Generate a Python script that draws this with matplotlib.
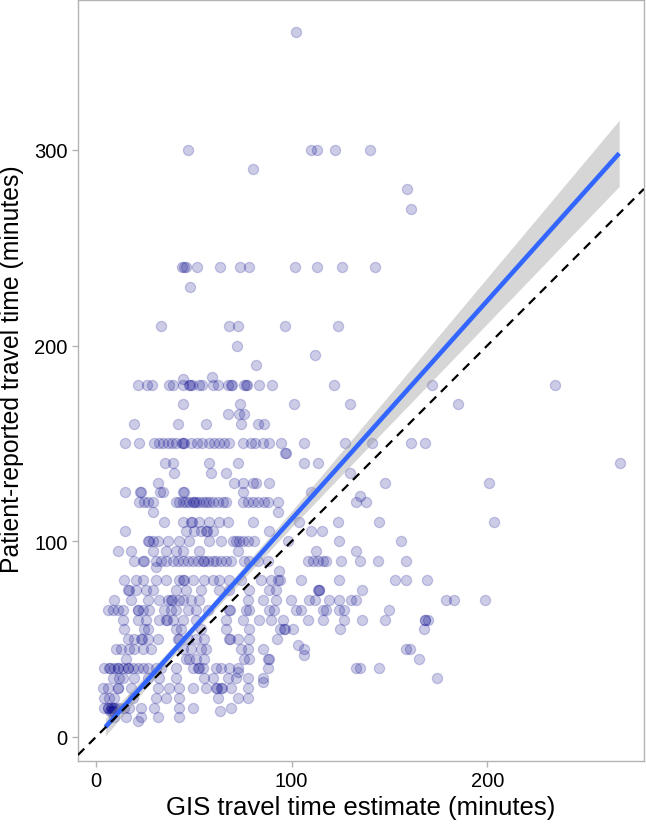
import matplotlib.pyplot as plt

plt.rcParams['font.family'] = ['Liberation Sans', 'DejaVu Sans']

# patient-reported minutes (rows of the scatter) and the GIS estimates sitting on each row
reported_levels = [360, 300, 290, 280, 270, 240, 230, 210, 200, 195, 190, 184, 183, 180,
                   170, 165, 160, 150, 145, 140, 135, 130, 125, 123, 120, 115, 110, 105,
                   100, 95, 90, 87, 85, 80, 75, 70, 65, 60, 55, 50, 47, 45, 42, 40, 35,
                   33, 30, 28, 25, 20, 15, 13, 10, 8]
gis_by_level = [
    [102],
    [47, 110, 113, 122, 140],
    [80],
    [159],
    [161],
    [44, 45, 46, 51.5, 63.6, 73.5, 78.3, 101.8, 113.2, 125.5, 142.7],
    [48],
    [33.4, 67.9, 72.8, 96.7, 123.8],
    [72],
    [112],
    [82],
    [59.3],
    [44.3],
    [21.3, 25.9, 28.6, 37.5, 39.2, 44.3, 47.5, 48.2, 49, 52.8, 54.2, 59.7, 62.2, 67.7,
     69.1, 69.5, 75.9, 76.7, 77.2, 83.2, 90, 121.4, 171.7, 234.8],
    [44.3, 73.8, 101.3, 129.6, 184.8],
    [67.7, 73, 75.9],
    [19.6, 41.8, 56.3, 74.2, 82.7, 86.1],
    [15, 22.1, 29.8, 32.4, 34.4, 36.7, 38.9, 40.9, 44.2, 44.7, 45.2, 48.6, 51.5, 54.2,
     57.6, 60.5, 63, 65.6, 68.2, 75, 79.3, 81.5, 85.3, 88.3, 94.6, 106.5, 127.5, 141.2,
     161, 168.4],
    [96.7, 97],
    [35.5, 39.2, 58, 72.5, 106.5, 113.4, 267.7],
    [40, 58.8, 66.5, 129.6],
    [31.5, 70.7, 75, 80.2, 81.8, 88.6, 147.5, 200.7],
    [14.8, 22.7, 23.2, 32.7, 34.4, 44.3, 44.8, 75, 110],
    [134.7],
    [22.1, 24.7, 26.4, 29, 40.9, 42.6, 44.3, 46, 47.7, 49.5, 50, 51.2, 52.8, 54.6, 56.3,
     58, 59.7, 62.2, 64.8, 66.5, 75, 77.6, 80.2, 82.7, 86.1, 87.8, 92.9, 133, 138.1],
    [29, 93],
    [35, 44.3, 48.6, 49, 52.8, 58, 63, 67.4, 80.2, 104, 123.6, 144.6, 203.4],
    [14.8, 46, 50.3, 53.7, 56.3, 56.8, 59.7, 88.6, 110, 115.6],
    [26.4, 27, 29, 31.5, 36.7, 42.6, 47.7, 58, 64, 70, 71.6, 73.3, 75, 77.6, 81, 98,
     124.4, 156],
    [11.1, 17.9, 29, 35.8, 40.9, 44.3, 52.8, 72.5, 112.5, 133],
    [19.6, 23.9, 24.3, 30.7, 33.2, 35.8, 39.2, 41.8, 44.3, 46.9, 49.5, 52, 54.6, 55,
     57.1, 59.7, 61.4, 64, 66.5, 69.1, 75.9, 78.4, 82.7, 87.8, 108.3, 110.8, 113.4, 116,
     117.6, 125.3, 134.7, 144.1, 158.6],
    [30.7],
    [93.6],
    [14.5, 20.5, 23.9, 30.7, 35.8, 42.6, 44.3, 44.8, 49.5, 55.4, 59.7, 63, 68.2, 74.2,
     84.4, 89.5, 93, 93.8, 104.9, 124.4, 152.6, 158.6, 169.1],
    [16.2, 16.7, 20.5, 25.6, 29, 40.9, 46, 53.7, 63, 68.2, 78.4, 88.6, 92, 113.4, 113.8,
     114.2, 136],
    [9.4, 17.9, 26.4, 32.4, 36.7, 38.4, 38.8, 42.6, 44.3, 48.6, 52.8, 77.6, 85.3, 92.1,
     99.7, 109.1, 111.7, 119.3, 124.4, 130.4, 133, 178.7, 182.8, 199],
    [6, 8.5, 11.1, 13.7, 21.3, 21.7, 23.9, 27.3, 35, 38.4, 40.9, 46.9, 51.2, 57.1, 68.2,
     68.6, 76.7, 78.4, 88.6, 91.2, 102.3, 104.9, 116, 117.6, 124.4, 127, 150],
    [13.7, 21.3, 25.6, 32.4, 35.8, 36.2, 39.2, 44.3, 51.2, 66.5, 75, 83.5, 89.5, 95.5,
     108.3, 116, 127, 136, 147.5, 168, 168.3, 169.6],
    [14.5, 24.7, 26.4, 40.9, 43.5, 53.7, 66.5, 78.4, 93.8, 96.3, 96.7, 100.6, 124.8, 167.6],
    [16.2, 19.6, 23, 23.4, 26.4, 31.5, 41.8, 42.2, 46.9, 51.2, 55.4, 68.2, 68.6, 72.5,
     78.4, 92.6],
    [103.2],
    [10.2, 12.8, 17, 19.6, 23.9, 28.1, 44.3, 48.6, 53.7, 56.3, 74.2, 77.6, 85.3, 106.5,
     158.6, 160.3],
    [106.5],
    [15.3, 46, 47.7, 51.2, 55.4, 75.9, 78.4, 87.8, 88.2, 165],
    [4.2, 6.8, 7.2, 9.4, 11.1, 11.5, 13.7, 16.2, 16.6, 18.8, 21.3, 23.9, 26.4, 30.7, 33.2,
     40.9, 49.5, 52, 52.4, 54.6, 61.4, 64, 68.2, 72.5, 87.8, 133, 134.7, 144.6],
    [72.5],
    [8.5, 11.9, 13.7, 19.6, 26.4, 32.4, 40.9, 55.4, 59.7, 67.4, 71.6, 77.9, 85.3, 174.1],
    [85.3],
    [3.4, 6, 11.1, 11.5, 17.9, 31.5, 37.5, 42.6, 49.5, 56.3, 61.4, 61.8, 64, 64.4, 69.1, 77.9],
    [4.2, 6.8, 9.4, 18.8, 30.7, 35.8, 42.6, 62.2, 72.5, 77.9],
    [4.2, 6, 6.4, 7.7, 8.1, 9.4, 9.8, 11.9, 14.5, 17, 23, 29.8, 42.6, 49.5, 69.1],
    [7, 8, 9, 63.4],
    [9.4, 15.3, 23, 31.5, 42.6],
    [21.3],
]

# fitted regression line and its confidence band
fit_x = [4.8, 50, 100, 150, 200, 267.4]
fit_y = [5.0, 55.5, 111.3, 167.1, 222.9, 298.2]
band_lo = [0.5, 53.4, 107.2, 159.3, 211.2, 281.3]
band_hi = [9.5, 57.5, 115.4, 174.9, 234.7, 315.1]

gis = []
reported = []
for level, xs in zip(reported_levels, gis_by_level):
    for x in xs:
        gis.append(x)
        reported.append(level)

fig = plt.figure(figsize=(6.46, 8.28), dpi=100)
ax = fig.add_axes([0.1207, 0.0797, 0.876, 0.919])

ax.scatter(gis, reported, s=54, facecolor=(0, 0, 0.545, 0.2),
           edgecolor=(0, 0, 0.545, 0.2), linewidth=0.9, zorder=2)
ax.fill_between(fit_x, band_lo, band_hi, color='#999999', alpha=0.4, linewidth=0, zorder=3)
ax.plot(fit_x, fit_y, color='#3366FF', lw=3.3, solid_capstyle='butt', zorder=4)
ax.axline((0, 0), slope=1, color='black', lw=1.6, dashes=(4, 3), zorder=5)

ax.set_xlim(-9.2, 280)
ax.set_ylim(-12.3, 376.5)
ax.set_xticks([0, 100, 200])
ax.set_yticks([0, 100, 200, 300])

for sp in ax.spines.values():
    sp.set_color('#b3b3b3')
    sp.set_linewidth(1.0)
ax.tick_params(colors='#b3b3b3', labelcolor='black', labelsize=14.5, length=4, width=1)

ax.set_xlabel('GIS travel time estimate (minutes)', fontsize=18.5, labelpad=3)
ax.set_ylabel('Patient-reported travel time (minutes)', fontsize=17.8)
ax.yaxis.set_label_coords(-0.095, 0.516)

fig.savefig('out.png', dpi=100)
